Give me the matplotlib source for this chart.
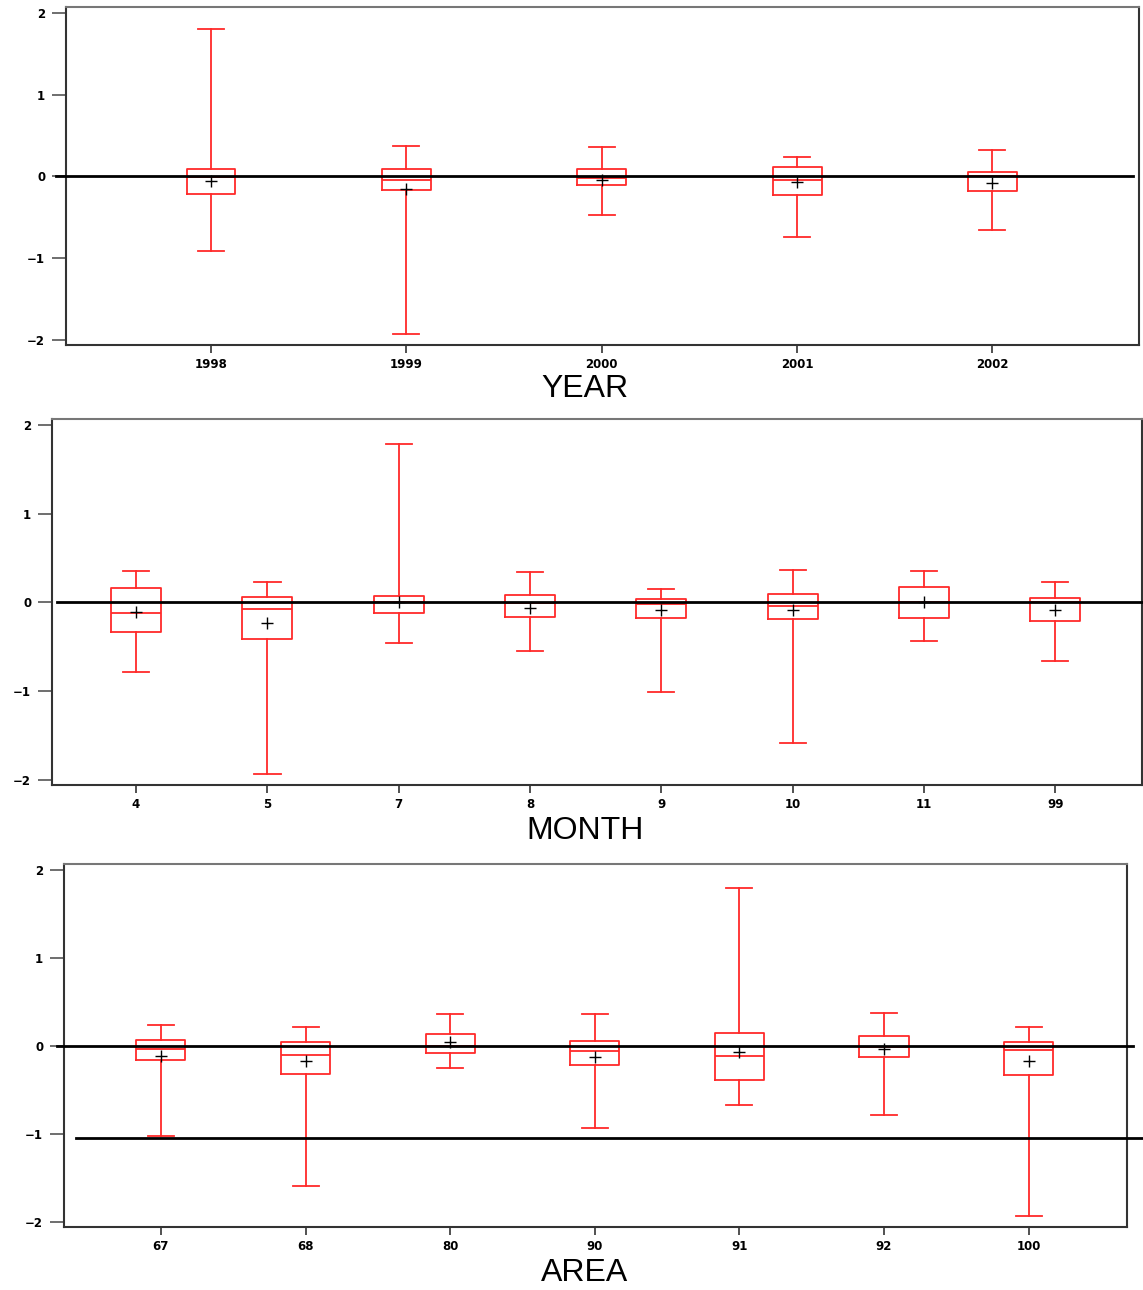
import matplotlib.pyplot as plt

plt.rcParams['font.family'] = ['Liberation Sans', 'DejaVu Sans']

# ---- data ----
year_labels = ['1998', '1999', '2000', '2001', '2002']
year_whislo = [-0.91, -1.92, -0.47, -0.74, -0.66]
year_q1 = [-0.21, -0.16, -0.11, -0.23, -0.18]
year_med = [-0.01, -0.04, -0.02, -0.04, 0.00]
year_q3 = [0.085, 0.085, 0.085, 0.11, 0.05]
year_whishi = [1.80, 0.37, 0.36, 0.24, 0.32]
year_mean = [-0.057, -0.15, -0.04, -0.07, -0.085]

month_labels = ['4', '5', '7', '8', '9', '10', '11', '99']
month_whislo = [-0.79, -1.94, -0.46, -0.55, -1.01, -1.59, -0.43, -0.66]
month_q1 = [-0.33, -0.41, -0.12, -0.16, -0.17, -0.19, -0.18, -0.21]
month_med = [-0.116, -0.07, 0.00, -0.01, -0.02, -0.04, 0.00, 0.00]
month_q3 = [0.165, 0.06, 0.07, 0.08, 0.035, 0.09, 0.17, 0.05]
month_whishi = [0.36, 0.23, 1.79, 0.34, 0.15, 0.37, 0.36, 0.23]
month_mean = [-0.11, -0.23, 0.01, -0.06, -0.09, -0.09, 0.00, -0.08]

area_labels = ['67', '68', '80', '90', '91', '92', '100']
area_whislo = [-1.02, -1.59, -0.25, -0.93, -0.67, -0.79, -1.94]
area_q1 = [-0.16, -0.32, -0.076, -0.22, -0.39, -0.125, -0.33]
area_med = [-0.03, -0.105, 0.00, -0.06, -0.12, -0.015, -0.05]
area_q3 = [0.07, 0.04, 0.14, 0.057, 0.15, 0.11, 0.05]
area_whishi = [0.24, 0.22, 0.36, 0.36, 1.80, 0.38, 0.21]
area_mean = [-0.11, -0.17, 0.04, -0.13, -0.065, -0.04, -0.17]

red = '#FF2A2A'
W, H = 1143, 1290

fig = plt.figure(figsize=(W / 100, H / 100), dpi=100)


def px_axes(left, top, right, bottom):
    return fig.add_axes([left / W, 1 - bottom / H, (right - left) / W, (bottom - top) / H])


def panel(ax, labels, lo, q1, med, q3, hi, mean, width, capw, xlim, title, title_y, lines):
    stats = []
    for i, lab in enumerate(labels):
        stats.append(dict(label=lab, whislo=lo[i], q1=q1[i], med=med[i], q3=q3[i],
                          whishi=hi[i], mean=mean[i], fliers=[]))
    pos = list(range(1, len(labels) + 1))
    ax.bxp(stats, positions=pos, widths=width, capwidths=capw, showmeans=True,
           showfliers=False,
           boxprops=dict(color=red, lw=1.3),
           whiskerprops=dict(color=red, lw=1.3),
           capprops=dict(color=red, lw=1.3),
           medianprops=dict(color=red, lw=1.3),
           meanprops=dict(marker='+', markeredgecolor='black', markersize=9, markeredgewidth=1.0))
    for y, x0, x1 in lines:
        ax.axhline(y, xmin=x0, xmax=x1, color='black', lw=2, clip_on=False, zorder=5)
    ax.set_xlim(*xlim)
    ax.set_ylim(-2.06, 2.07)
    ax.set_yticks([-2, -1, 0, 1, 2])
    ax.set_yticklabels(['\u22122', '\u22121', '0', '1', '2'])
    ax.set_xticks(pos)
    ax.set_xticklabels(labels)
    ax.tick_params(axis='y', length=10, width=1.2, color='#555555', pad=5)
    ax.tick_params(axis='x', length=6, width=1.2, color='#333333', pad=3)
    for lab in ax.get_xticklabels() + ax.get_yticklabels():
        lab.set_fontweight('bold')
        lab.set_fontsize(8.5)
        lab.set_family(['DejaVu Sans'])
    for side, sp in ax.spines.items():
        sp.set_linewidth(1.5)
        sp.set_color('#333333' if side in ('left', 'bottom', 'right') else '#777777')
    fig.text(585 / W, 1 - title_y / H, title, ha='center', va='center', fontsize=23)


ax1 = px_axes(66, 7, 1139, 345)
panel(ax1, year_labels, year_whislo, year_q1, year_med, year_q3, year_whishi, year_mean,
      0.25, 0.133, (0.258, 5.75), 'YEAR', 389, [(0, -0.0093, 0.994)])

ax2 = px_axes(52, 419, 1142, 785)
panel(ax2, month_labels, month_whislo, month_q1, month_med, month_q3, month_whishi, month_mean,
      0.38, 0.2, (0.36, 8.66), 'MONTH', 831, [(0, 0.0046, 1.0)])

ax3 = px_axes(64, 864, 1127, 1227)
panel(ax3, area_labels, area_whislo, area_q1, area_med, area_q3, area_whishi, area_mean,
      0.34, 0.18, (0.33, 7.68), 'AREA', 1273, [(0, -0.0066, 1.0056), (-1.05, 0.0113, 1.015)])

fig.savefig('out.png', dpi=100, facecolor='white')
